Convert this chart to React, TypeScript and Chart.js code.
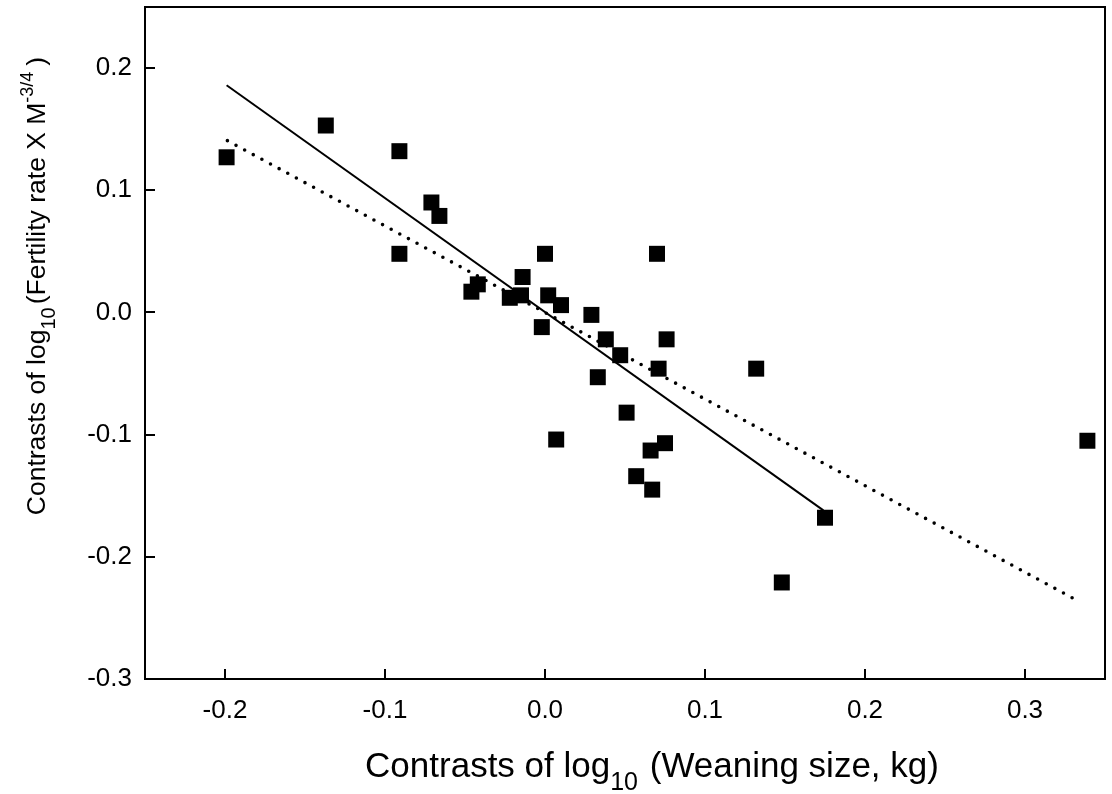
import React, { useEffect, useRef } from "react";
import { Chart, registerables } from "chart.js";

Chart.register(...registerables);

// Scatter data: contrasts
const contrastX = [
  -0.091, 0.0, 0.07, -0.014, -0.042, -0.046, -0.022, -0.015, 0.002, 0.01, -0.002, 0.029, 0.038, 0.076,
  0.047, 0.071, 0.033, 0.051, 0.007, 0.075, 0.066, 0.057, 0.067, -0.199, -0.137, -0.091, 0.132, 0.175,
  0.148, 0.339, -0.071, -0.066,
];
const contrastY = [
  0.048, 0.048, 0.048, 0.029, 0.023, 0.017, 0.012, 0.014, 0.014, 0.006, -0.012, -0.002, -0.022, -0.022,
  -0.035, -0.046, -0.053, -0.082, -0.104, -0.107, -0.113, -0.134, -0.145, 0.127, 0.153, 0.132, -0.046,
  -0.168, -0.221, -0.105, 0.09, 0.079,
];

// Regression lines (end points)
const solidFitX = [-0.199, 0.174];
const solidFitY = [0.186, -0.162];
const dottedFitX = [-0.1985, 0.334];
const dottedFitY = [0.1406, -0.2367];

// Axis ticks
const xTicks = [-0.2, -0.1, 0.0, 0.1, 0.2, 0.3];
const yTicks = [-0.3, -0.2, -0.1, 0.0, 0.1, 0.2];

const FONT = "'Liberation Sans', Arial, sans-serif";

type Part = { t: string; size: number; dy: number; gap?: number };

const xTitleParts: Part[] = [
  { t: "Contrasts of log", size: 35, dy: 0 },
  { t: "10", size: 25, dy: 13, gap: 2 },
  { t: " (Weaning size, kg)", size: 35, dy: 0 },
];
const yTitleParts: Part[] = [
  { t: "Contrasts of log", size: 26.5, dy: 0 },
  { t: "10", size: 20, dy: 10, gap: 3 },
  { t: "(Fertility rate X M", size: 26.5, dy: 0 },
  { t: "-3/4", size: 18, dy: -12, gap: 6 },
  { t: ")", size: 26.5, dy: 0 },
];

function drawParts(ctx: CanvasRenderingContext2D, parts: Part[], cx: number, baseline: number) {
  let total = 0;
  const widths = parts.map((p) => {
    ctx.font = `${p.size}px ${FONT}`;
    const w = ctx.measureText(p.t).width + (p.gap || 0);
    total += w;
    return w;
  });
  let x = cx - total / 2;
  parts.forEach((p, i) => {
    ctx.font = `${p.size}px ${FONT}`;
    ctx.fillText(p.t, x, baseline + p.dy);
    x += widths[i];
  });
}

const framePlugin = {
  id: "frame",
  afterDraw(chart: any) {
    const ctx: CanvasRenderingContext2D = chart.ctx;
    const { left, right, top, bottom } = chart.chartArea;
    const xs = chart.scales.x;
    const ys = chart.scales.y;
    ctx.save();
    ctx.strokeStyle = "#000";
    ctx.lineWidth = 2;
    ctx.strokeRect(left, top, right - left, bottom - top);
    ctx.beginPath();
    xTicks.forEach((v) => {
      const px = Math.round(xs.getPixelForValue(v));
      ctx.moveTo(px, bottom);
      ctx.lineTo(px, bottom - 10);
    });
    yTicks.forEach((v) => {
      const py = Math.round(ys.getPixelForValue(v));
      ctx.moveTo(left, py);
      ctx.lineTo(left + 10, py);
    });
    ctx.stroke();

    ctx.fillStyle = "#000";
    ctx.textBaseline = "alphabetic";
    ctx.textAlign = "left";
    drawParts(ctx, xTitleParts, 652, 777);

    ctx.translate(45, 286);
    ctx.rotate(-Math.PI / 2);
    drawParts(ctx, yTitleParts, 0, 0);
    ctx.restore();
  },
};

export default function App() {
  const ref = useRef<HTMLCanvasElement | null>(null);

  useEffect(() => {
    document.body.style.margin = "0";
    const canvas = ref.current;
    if (!canvas) return;
    const points = contrastX.map((x, i) => ({ x, y: contrastY[i] }));
    const solid = solidFitX.map((x, i) => ({ x, y: solidFitY[i] }));
    const dotted = dottedFitX.map((x, i) => ({ x, y: dottedFitY[i] }));

    const zeroPad = (s: any) => {
      s.paddingTop = 0;
      s.paddingBottom = 0;
      s.paddingLeft = 0;
      s.paddingRight = 0;
    };

    const chart = new Chart(canvas, {
      type: "scatter",
      data: {
        datasets: [
          {
            type: "line",
            data: solid,
            borderColor: "#000",
            borderWidth: 2,
            pointRadius: 0,
            fill: false,
          } as any,
          {
            type: "line",
            data: dotted,
            borderColor: "#000",
            borderWidth: 3.6,
            borderDash: [0, 9.8],
            borderCapStyle: "round",
            pointRadius: 0,
            fill: false,
          } as any,
          {
            data: points,
            pointStyle: "rect",
            pointRadius: 11.3,
            pointHoverRadius: 11.3,
            backgroundColor: "#000",
            borderColor: "#000",
            borderWidth: 0,
          },
        ],
      },
      options: {
        animation: false,
        responsive: false,
        devicePixelRatio: 1,
        events: [],
        layout: { autoPadding: false, padding: { top: 7, right: 7, left: 0, bottom: 0 } },
        plugins: { legend: { display: false }, tooltip: { enabled: false } },
        scales: {
          x: {
            type: "linear",
            min: -0.25,
            max: 0.35,
            grid: { display: false, drawTicks: false },
            border: { display: false },
            afterBuildTicks: (s: any) => {
              s.ticks = xTicks.map((value) => ({ value }));
            },
            afterFit: (s: any) => {
              s.height = 115;
              zeroPad(s);
            },
            ticks: {
              padding: 16,
              color: "#000",
              font: { family: FONT, size: 26 },
              callback: (v: any) => Number(v).toFixed(1),
            },
          },
          y: {
            type: "linear",
            min: -0.3,
            max: 0.25,
            grid: { display: false, drawTicks: false },
            border: { display: false },
            afterBuildTicks: (s: any) => {
              s.ticks = yTicks.map((value) => ({ value }));
            },
            afterFit: (s: any) => {
              s.width = 145;
              zeroPad(s);
            },
            ticks: {
              padding: 13,
              color: "#000",
              font: { family: FONT, size: 26 },
              callback: (v: any) => Number(v).toFixed(1),
            },
          },
        },
      },
      plugins: [framePlugin],
    });
    return () => chart.destroy();
  }, []);

  return (
    <div style={{ position: "absolute", left: 0, top: 0, width: 1112, height: 794, background: "#fff", overflow: "hidden" }}>
      <canvas ref={ref} width={1112} height={794} style={{ display: "block" }} />
    </div>
  );
}
